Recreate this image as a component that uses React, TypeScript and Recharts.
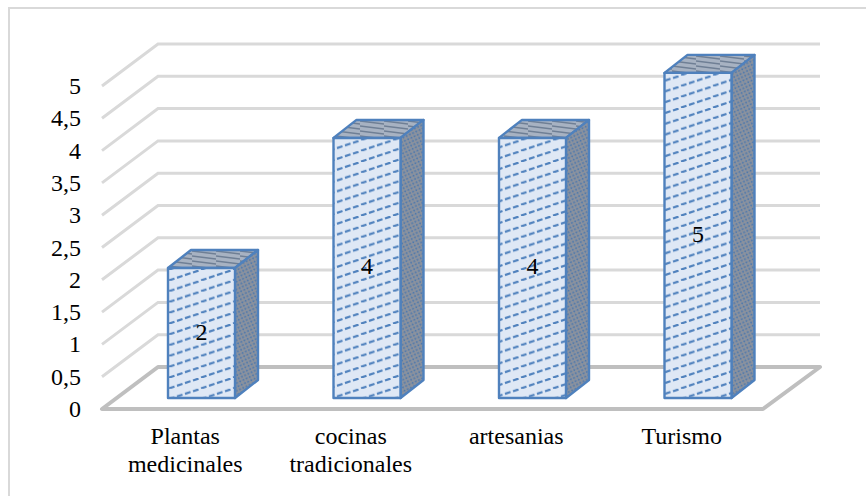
import { Bar, BarChart, CartesianGrid, LabelList, XAxis, YAxis } from "recharts";

const categories = ["Plantas|medicinales", "cocinas|tradicionales", "artesanias", "Turismo"];
const values = [2, 4, 4, 5];
const yTicks = [0, 0.5, 1, 1.5, 2, 2.5, 3, 3.5, 4, 4.5, 5];

const data = categories.map((name, i) => ({ name, value: values[i] }));

const FONT = '"Liberation Serif", "Times New Roman", serif';
const WALL = "#d9d9d9";
const FLOOR = "#bfbfbf";
const EDGE = "#4f81bd";

// floor / back wall corners
const FRONT_LEFT = 102;
const FRONT_RIGHT = 763;
const BACK_LEFT = 158;
const BACK_RIGHT = 820;
const BACK_RISE = 42;

const PLOT_TOP = 43;
const PLOT_BOTTOM = 409;

const BOX_DX = 23;
const BOX_DY = 18;

// one grid level: the diagonal on the side wall plus the line on the back wall
function WallLine({ y1 }: any) {
  const y = y1;
  // the grid also hands over the top edge of the plot, which is not a tick
  if (y === undefined || y <= PLOT_TOP + 1) return null;
  // the lowest level is the floor outline
  if (Math.abs(y - PLOT_BOTTOM) < 1) {
    return (
      <polygon
        points={`${FRONT_LEFT},${y} ${FRONT_RIGHT},${y} ${BACK_RIGHT},${y - BACK_RISE} ${BACK_LEFT},${y - BACK_RISE}`}
        fill="none"
        stroke={FLOOR}
        strokeWidth={4}
        strokeLinejoin="round"
      />
    );
  }
  return (
    <polyline
      points={`${FRONT_LEFT},${y} ${BACK_LEFT},${y - BACK_RISE} ${BACK_RIGHT},${y - BACK_RISE}`}
      fill="none"
      stroke={WALL}
      strokeWidth={3}
    />
  );
}

function WallTick({ y, payload }: any) {
  const label = String(payload.value).replace(".", ",");
  return (
    <text x={81} y={y + 8} textAnchor="end" fontFamily={FONT} fontSize={24} fill="#000">
      {label}
    </text>
  );
}

function CategoryTick({ x, payload }: any) {
  const lines = String(payload.value).split("|");
  return (
    <text textAnchor="middle" fontFamily={FONT} fontSize={24} fill="#000">
      {lines.map((line, i) => (
        <tspan key={line} x={x - 16.5} y={444 + i * 28}>
          {line}
        </tspan>
      ))}
    </text>
  );
}

function Box({ x, y, width, height }: any) {
  const r = x + width;
  const b = y + height;
  return (
    <g stroke={EDGE} strokeWidth={2.4} strokeLinejoin="round">
      <polygon
        points={`${x},${y} ${x + BOX_DX},${y - BOX_DY} ${r + BOX_DX},${y - BOX_DY} ${r},${y}`}
        fill="url(#boxTop)"
      />
      <polygon
        points={`${r},${y} ${r + BOX_DX},${y - BOX_DY} ${r + BOX_DX},${b - BOX_DY} ${r},${b}`}
        fill="url(#boxSide)"
      />
      <rect x={x} y={y} width={width} height={height} fill="url(#boxFront)" />
    </g>
  );
}

export default function App() {
  return (
    <div style={{ position: "absolute", left: 0, top: 0, width: 866, height: 496, overflow: "hidden" }}>
      <div
        style={{
          position: "absolute",
          left: 8,
          top: 7,
          right: 0,
          bottom: 0,
          borderLeft: "2px solid #d9d9d9",
          borderTop: "2px solid #d9d9d9",
        }}
      />
      <div style={{ position: "absolute", left: 0, top: 0 }}>
        <BarChart
          width={866}
          height={496}
          data={data}
          margin={{ top: PLOT_TOP, right: 85, bottom: 47, left: 59 }}
        >
          <defs>
            <pattern id="boxFront" width={32} height={10.8} patternUnits="userSpaceOnUse" x={168}>
              <rect width={32} height={10.8} fill="#dfe8f5" />
              <g stroke={EDGE} strokeWidth={2.2} fill="none">
                <line x1={1} y1={10.4} x2={6.5} y2={8.6} />
                <line x1={9} y1={7.7} x2={14.5} y2={5.9} />
                <line x1={17} y1={5} x2={22.5} y2={3.2} />
                <line x1={25} y1={2.4} x2={30.5} y2={0.6} />
              </g>
            </pattern>
            <pattern
              id="boxSide"
              width={5}
              height={5}
              patternUnits="userSpaceOnUse"
              patternTransform="rotate(20)"
            >
              <rect width={5} height={5} fill="#8b929e" />
              <circle cx={1.2} cy={1.2} r={1} fill="#4d78ad" />
              <circle cx={3.7} cy={3.7} r={1} fill="#4d78ad" />
            </pattern>
            <pattern id="boxTop" width={24} height={5} patternUnits="userSpaceOnUse">
              <rect width={24} height={5} fill="#a7b2c2" />
              <line x1={0} y1={1} x2={24} y2={4} stroke="#6f7f95" strokeWidth={1.3} />
            </pattern>
          </defs>
          <XAxis
            dataKey="name"
            axisLine={false}
            tickLine={false}
            height={40}
            interval={0}
            tick={<CategoryTick />}
          />
          <YAxis
            yAxisId="wall"
            width={60}
            domain={[0, 5.666]}
            ticks={yTicks}
            allowDataOverflow
            axisLine={false}
            tickLine={false}
            interval={0}
            tick={<WallTick />}
          />
          <YAxis yAxisId="bars" hide domain={[-0.169, 5.46]} allowDataOverflow />
          <CartesianGrid yAxisId="wall" vertical={false} horizontal={<WallLine />} />
          <Bar
            dataKey="value"
            yAxisId="bars"
            barSize={67}
            isAnimationActive={false}
            shape={<Box />}
          >
            <LabelList
              dataKey="value"
              position="center"
              fontFamily={FONT}
              fontSize={24}
              fill="#000"
              dy={-2}
            />
          </Bar>
        </BarChart>
      </div>
    </div>
  );
}
